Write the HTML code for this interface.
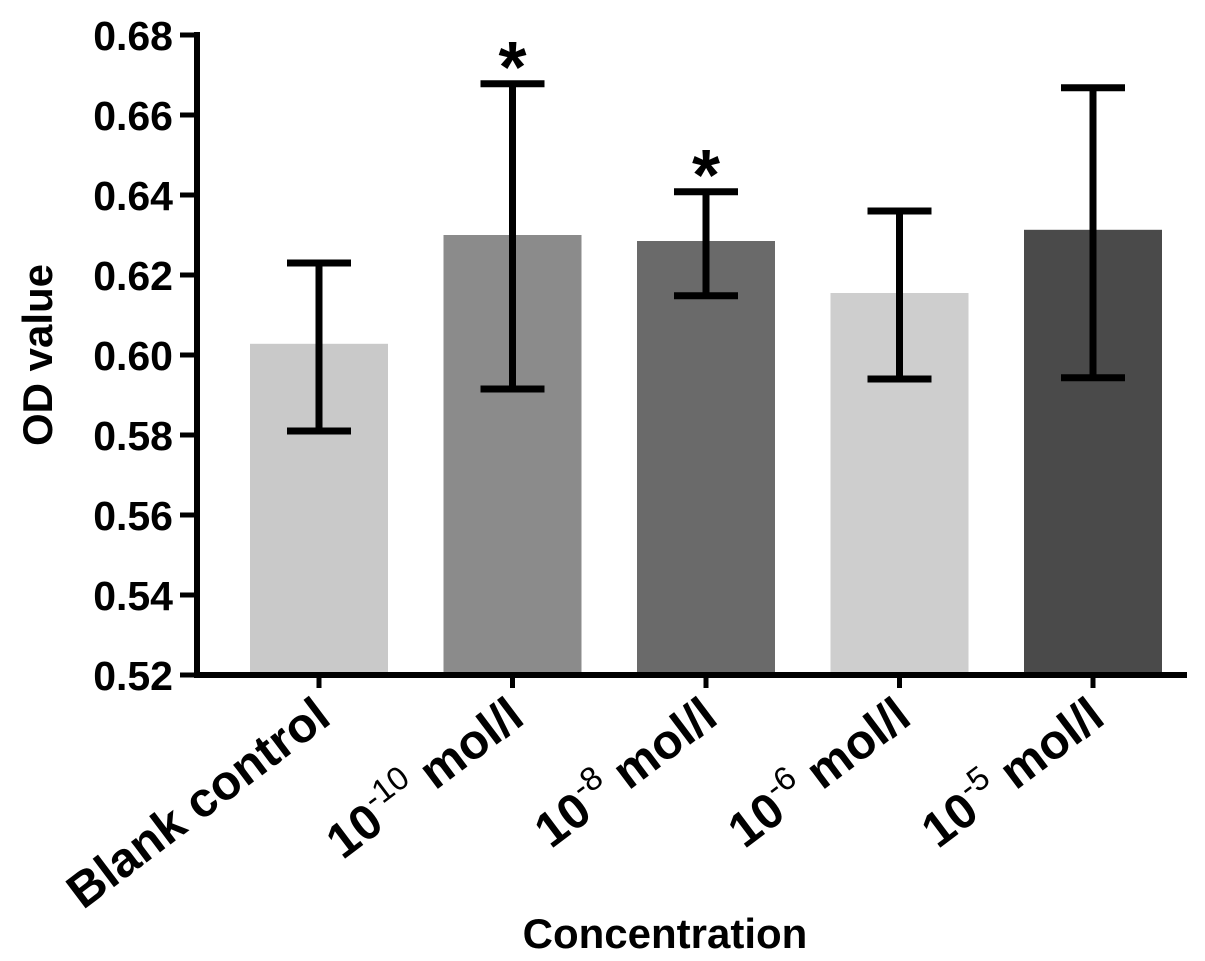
<!DOCTYPE html>
<html><head><meta charset="utf-8"><style>body{margin:0;background:#fff}svg{display:block;font-family:"Liberation Sans",Arial,sans-serif;font-weight:bold}</style></head>
<body>
<svg id="c" width="1205" height="961"></svg>
<script>
const categories=["Blank control","10^-10 mol/l","10^-8 mol/l","10^-6 mol/l","10^-5 mol/l"];
const values=[0.6028,0.6300,0.6285,0.6155,0.6313];
const errHigh=[0.623,0.6678,0.6408,0.636,0.6668];
const errLow=[0.581,0.5915,0.6148,0.594,0.5943];
const colors=["#c9c9c9","#8b8b8b","#6a6a6a","#cecece","#4a4a4a"];
const stars=[false,true,true,false,false];
const ticks=[0.52,0.54,0.56,0.58,0.60,0.62,0.64,0.66,0.68];
const NS="http://www.w3.org/2000/svg",svg=document.getElementById('c');
const y=v=>675-(v-0.52)*4000;
const xc=i=>319+i*193.5;
function mk(t,a,p){const e=document.createElementNS(NS,t);for(const k in a)e.setAttribute(k,a[k]);(p||svg).appendChild(e);return e;}
categories.forEach((c,i)=>{
 const b=mk('rect',{x:xc(i)-69,y:y(values[i]),width:138,height:675-y(values[i]),fill:colors[i]});
 
 
 const g=mk('g',{stroke:'#000','stroke-width':7,fill:'none'});
 
 
 mk('line',{x1:xc(i),x2:xc(i),y1:y(errHigh[i]),y2:y(errLow[i])},g);
 mk('line',{x1:xc(i)-32,x2:xc(i)+32,y1:y(errHigh[i]),y2:y(errHigh[i])},g);
 mk('line',{x1:xc(i)-32,x2:xc(i)+32,y1:y(errLow[i]),y2:y(errLow[i])},g);
 if(stars[i]){const s=mk('text',{x:xc(i),y:y(errHigh[i])+8,'text-anchor':'middle','font-size':72});s.textContent='*';
 
 }
 mk('line',{x1:xc(i),x2:xc(i),y1:675,y2:688,stroke:'#000','stroke-width':5});
 const t=mk('text',{transform:`translate(${xc(i)+14},722) rotate(-37)`,'text-anchor':'end','font-size':49});
 
 
 const m=c.match(/^10\^(-\d+) (.*)$/);
 if(m){const a=mk('tspan',{},t);a.textContent='10';const b2=mk('tspan',{dy:-21,'font-size':33,'font-weight':'normal'},t);b2.textContent=m[1];const d=mk('tspan',{dy:21},t);d.textContent=' '+m[2];}
 else t.textContent=c;
});
ticks.forEach(v=>{
 mk('line',{x1:180,x2:197,y1:y(v),y2:y(v),stroke:'#000','stroke-width':5});
 const t=mk('text',{x:173,y:y(v)+15,'text-anchor':'end','font-size':41});t.textContent=v.toFixed(2);
 
 
});
const ya=mk('line',{x1:197,x2:197,y1:32,y2:677,stroke:'#000','stroke-width':6});


const xa=mk('line',{x1:194,x2:1187,y1:675,y2:675,stroke:'#000','stroke-width':6});


const yt=mk('text',{transform:'translate(52,355) rotate(-90)','text-anchor':'middle','font-size':42});yt.textContent='OD value';


const xt=mk('text',{x:665,y:948,'text-anchor':'middle','font-size':42});xt.textContent='Concentration';


</script>
</body></html>
